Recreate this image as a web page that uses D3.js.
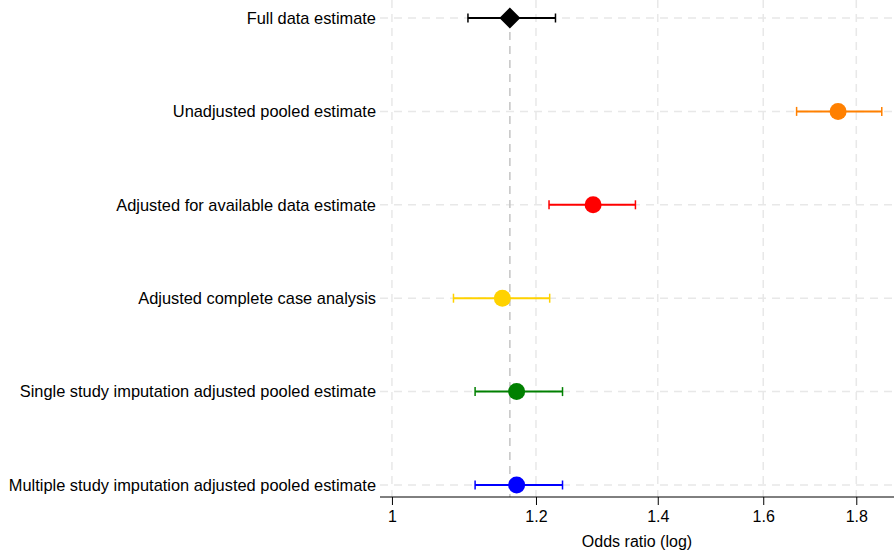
<!DOCTYPE html>
<html>
<head>
<meta charset="utf-8">
<script src="https://cdn.jsdelivr.net/npm/d3@7"></script>
<style>
  body { margin: 0; background: #fff; }
  svg { display: block; font-family: "Liberation Sans", Arial, sans-serif; }
</style>
</head>
<body>
<svg id="chart"></svg>
<script>
// estimates
let labels = [
    "Full data estimate",
    "Unadjusted pooled estimate",
    "Adjusted for available data estimate",
    "Adjusted complete case analysis",
    "Single study imputation adjusted pooled estimate",
    "Multiple study imputation adjusted pooled estimate"
];
let estimates = [1.161, 1.759, 1.290, 1.150, 1.171, 1.171];
let lower = [1.101, 1.669, 1.220, 1.081, 1.111, 1.111];
let upper = [1.230, 1.859, 1.361, 1.221, 1.241, 1.241];
let colors = ["#000000", "#ff8000", "#ff0000", "#ffd200", "#008000", "#0000ff"];
let tickValues = [1, 1.2, 1.4, 1.6, 1.8];

let width = 894;
let height = 551;

let svg = d3.select("#chart")
    .attr("width", width)
    .attr("height", height);

let data = labels.map((name, i) => ({
    name: name,
    est: estimates[i],
    lo: lower[i],
    hi: upper[i],
    color: colors[i],
    diamond: i == 0
}));

let scaleX = d3.scaleLog()
    .domain([0.985, 1.888])
    .range([380, 894]);

let scaleY = d3.scalePoint()
    .domain(labels)
    .range([18, 485]);

let axisY = 497;

// GRID
let grid = svg.append("g");

grid.selectAll(".vgrid")
    .data(tickValues)
    .enter()
    .append("line")
    .attr("x1", d => scaleX(d))
    .attr("x2", d => scaleX(d))
    .attr("y1", 0)
    .attr("y2", axisY)
    .attr("stroke", "#e8e8e8")
    .attr("stroke-width", 1.5)
    .attr("stroke-dasharray", "8,6");

grid.selectAll(".hgrid")
    .data(labels)
    .enter()
    .append("line")
    .attr("x1", 380)
    .attr("x2", width)
    .attr("y1", d => scaleY(d))
    .attr("y2", d => scaleY(d))
    .attr("stroke", "#e8e8e8")
    .attr("stroke-width", 1.5)
    .attr("stroke-dasharray", "8,6");

// reference line at full data estimate
svg.append("line")
    .attr("x1", scaleX(estimates[0]))
    .attr("x2", scaleX(estimates[0]))
    .attr("y1", scaleY(labels[0]))
    .attr("y2", axisY)
    .attr("stroke", "#c4c4c4")
    .attr("stroke-width", 1.5)
    .attr("stroke-dasharray", "8,6");

// X AXIS
let axis = d3.axisBottom(scaleX)
    .tickValues(tickValues)
    .tickFormat(d3.format("~g"))
    .tickSize(8)
    .tickSizeOuter(0)
    .tickPadding(6);

let axisGroup = svg.append("g")
    .attr("transform", `translate(0,${axisY})`)
    .call(axis);

axisGroup.select(".domain")
    .attr("d", `M380,0H${width}`)
    .attr("stroke", "#000");

axisGroup.selectAll("text")
    .style("font-size", "16px")
    .style("font-family", "Liberation Sans, Arial, sans-serif")
    .attr("fill", "#000");

svg.append("text")
    .attr("x", (380 + width) / 2)
    .attr("y", 547)
    .attr("text-anchor", "middle")
    .style("font-size", "16px")
    .text("Odds ratio (log)");

// ROW LABELS
svg.selectAll(".row-label")
    .data(data)
    .enter()
    .append("text")
    .attr("x", 376)
    .attr("y", d => scaleY(d.name))
    .attr("dy", "0.35em")
    .attr("text-anchor", "end")
    .style("font-size", "16.4px")
    .text(d => d.name);

// ESTIMATES
let rows = svg.selectAll(".row")
    .data(data)
    .enter()
    .append("g")
    .attr("class", "row");

rows.append("line")
    .attr("x1", d => scaleX(d.lo))
    .attr("x2", d => scaleX(d.hi))
    .attr("y1", d => scaleY(d.name))
    .attr("y2", d => scaleY(d.name))
    .attr("stroke", d => d.color)
    .attr("stroke-width", 2);

for (let end of ["lo", "hi"]) {
    rows.append("line")
        .attr("x1", d => scaleX(d[end]))
        .attr("x2", d => scaleX(d[end]))
        .attr("y1", d => scaleY(d.name) - 4.5)
        .attr("y2", d => scaleY(d.name) + 4.5)
        .attr("stroke", d => d.color)
        .attr("stroke-width", 1.5);
}

rows.filter(d => !d.diamond)
    .append("circle")
    .attr("cx", d => scaleX(d.est))
    .attr("cy", d => scaleY(d.name))
    .attr("r", 8.5)
    .attr("fill", d => d.color);

rows.filter(d => d.diamond)
    .append("path")
    .attr("transform", d => `translate(${scaleX(d.est)},${scaleY(d.name)})`)
    .attr("d", "M0,-10.5L10.5,0L0,10.5L-10.5,0Z")
    .attr("fill", d => d.color);
</script>
</body>
</html>
